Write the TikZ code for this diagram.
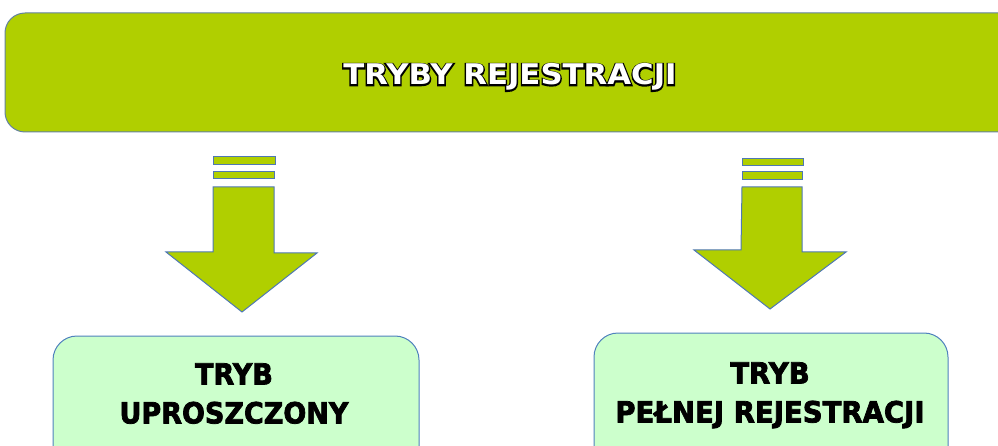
\documentclass[tikz,border=0pt]{standalone}
\usepackage{fontspec}
\usepackage{graphicx}
\setmainfont{DejaVu Sans}
\newcommand{\strokedtext}[2]{\special{pdf:literal 2 Tr #1 w 0 0 0 RG}#2\special{pdf:literal 0 Tr}}
\begin{document}
\begin{tikzpicture}[x=1pt,y=-1pt,
  lime/.style={fill={rgb,255:red,176;green,207;blue,0}},
  edgeblue/.style={draw={rgb,255:red,79;green,120;blue,180},line width=1pt},
  lightbox/.style={fill={rgb,255:red,204;green,255;blue,204},draw={rgb,255:red,79;green,129;blue,189},line width=1pt,rounded corners=24pt},
  boxtext/.style={font=\bfseries\fontsize{27}{37}\selectfont,align=center,text=black,inner sep=0pt},
  toptext/.style={font=\bfseries\fontsize{28.5}{30}\selectfont,inner sep=0pt,anchor=base}]
\useasboundingbox (0,0) rectangle (998,446);
\clip (0,0) rectangle (998,446);
% top bar
\draw[lime,draw={rgb,255:red,100;green,130;blue,160},line width=1pt,rounded corners=20pt] (5,13) rectangle (1030,132);
\node[toptext,text=black] (titleshadow) at (510,85) {\scalebox{1.08}[1]{\strokedtext{2.6}{TRYBY REJESTRACJI}}};
\node[toptext,text=white] (title) at (510,85) {\scalebox{1.08}[1]{TRYBY REJESTRACJI}};
% left arrow
\draw[lime,edgeblue] (213,157) rectangle (275,165);
\draw[lime,edgeblue] (213,172) rectangle (274,179);
\draw[lime,edgeblue] (213,187) -- (274,187) -- (274,253) -- (317,253) -- (242,312) -- (166,252) -- (213,252) -- cycle;
% right arrow
\draw[lime,edgeblue] (742,159) rectangle (803,166);
\draw[lime,edgeblue] (742,172) rectangle (802,180);
\draw[lime,edgeblue] (742,187) -- (802,187) -- (802,252) -- (846,252) -- (770,309) -- (694,250) -- (741,250) -- cycle;
% bottom boxes
\draw[lightbox] (53,336) rectangle (419,480);
\draw[lightbox] (594,333) rectangle (948,480);
\node[boxtext] (uproszczony) at (234,396) {\scalebox{1}[1.08]{\strokedtext{0.7}{\begin{tabular}{c}TRYB\\[-1pt]UPROSZCZONY\end{tabular}}}};
\node[boxtext] (pelnej) at (770,395) {\scalebox{1.02}[1.08]{\strokedtext{0.7}{\begin{tabular}{c}TRYB\\[-1pt]PEŁNEJ REJESTRACJI\end{tabular}}}};
\end{tikzpicture}
\end{document}
